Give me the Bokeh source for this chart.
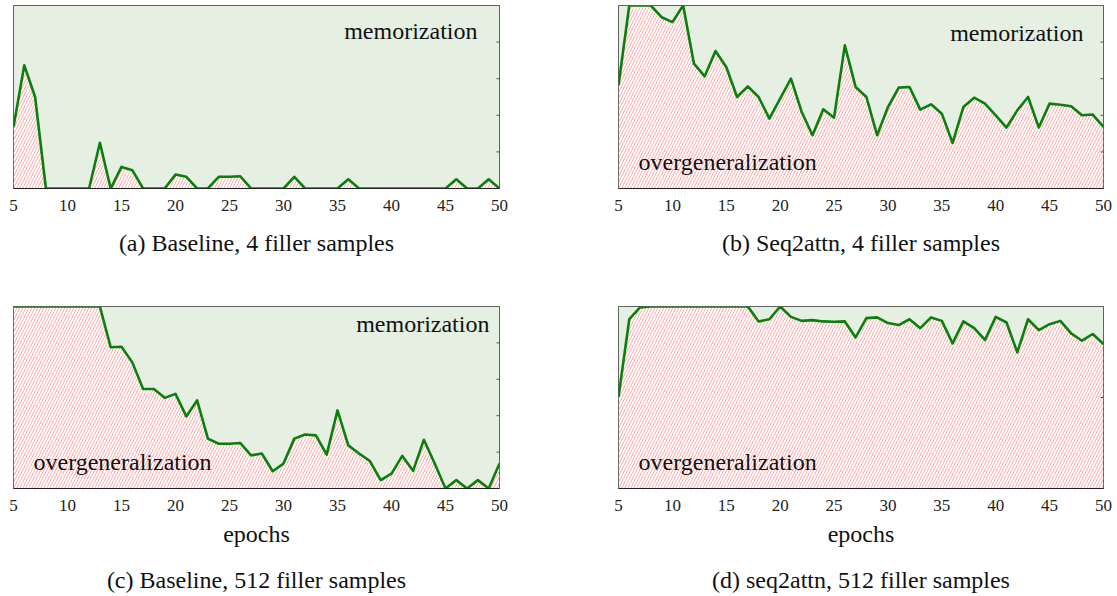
from bokeh.plotting import figure
from bokeh.layouts import column, row
from bokeh.models import LinearAxis, FixedTicker, Range1d, Label
from bokeh.embed import file_html
from bokeh.resources import INLINE

epochs = [5, 6, 7, 8, 9, 10, 11, 12, 13, 14, 15, 16, 17, 18, 19, 20, 21, 22, 23, 24,
          25, 26, 27, 28, 29, 30, 31, 32, 33, 34, 35, 36, 37, 38, 39, 40, 41, 42, 43, 44,
          45, 46, 47, 48, 49, 50]

baseline_4 = [0.336, 0.673, 0.50, 0.0, 0.0, 0.0, 0.0, 0.0, 0.25, 0.0,
              0.118, 0.10, 0.0, 0.0, 0.0, 0.076, 0.064, 0.0, 0.0, 0.064,
              0.064, 0.067, 0.0, 0.0, 0.0, 0.0, 0.064, 0.0, 0.0, 0.0,
              0.0, 0.05, 0.0, 0.0, 0.0, 0.0, 0.0, 0.0, 0.0, 0.0,
              0.0, 0.05, 0.0, 0.0, 0.05, 0.0]

seq2attn_4 = [0.564, 1.0, 1.0, 1.0, 0.936, 0.909, 1.0, 0.682, 0.613, 0.751,
              0.664, 0.50, 0.558, 0.50, 0.382, 0.491, 0.60, 0.418, 0.291, 0.433,
              0.387, 0.782, 0.555, 0.50, 0.291, 0.445, 0.551, 0.555, 0.431, 0.46,
              0.409, 0.249, 0.445, 0.496, 0.464, 0.40, 0.333, 0.427, 0.50, 0.333,
              0.464, 0.458, 0.449, 0.40, 0.404, 0.336]

baseline_512 = [1.0, 1.0, 1.0, 1.0, 1.0, 1.0, 1.0, 1.0, 1.0, 0.776,
                0.779, 0.693, 0.547, 0.547, 0.498, 0.52, 0.396, 0.484, 0.274, 0.246,
                0.246, 0.25, 0.182, 0.192, 0.095, 0.137, 0.274, 0.297, 0.292, 0.186,
                0.429, 0.237, 0.192, 0.151, 0.046, 0.082, 0.179, 0.097, 0.268, 0.137,
                0.0, 0.046, 0.0, 0.046, 0.0, 0.137]

seq2attn_512 = [0.502, 0.93, 0.995, 1.0, 1.0, 1.0, 1.0, 1.0, 1.0, 1.0,
                1.0, 1.0, 1.0, 0.918, 0.93, 1.0, 0.943, 0.921, 0.925, 0.918,
                0.916, 0.918, 0.83, 0.936, 0.94, 0.909, 0.898, 0.93, 0.881, 0.94,
                0.921, 0.797, 0.918, 0.881, 0.816, 0.943, 0.912, 0.748, 0.93, 0.87,
                0.903, 0.921, 0.852, 0.812, 0.849, 0.794]

x_ticks = [5, 10, 15, 20, 25, 30, 35, 40, 45, 50]
right_ticks_fine = [0.2, 0.4, 0.6, 0.8]
right_ticks_half = [0.5]

captions = ["(a) Baseline, 4 filler samples",
            "(b) Seq2attn, 4 filler samples",
            "(c) Baseline, 512 filler samples",
            "(d) seq2attn, 512 filler samples"]

FONT = "Liberation Serif"
GREEN_FILL = "#e5f0e2"
LINE_GREEN = "#0b7f0b"
HATCH_RED = "#ffaaaa"


def panel(y, caption, rticks, left_b, frame_w, right_b, top_b, frame_h, bottom_b,
          mem=None, over=None, xlabel=None, cap_standoff=16):
    p = figure(frame_width=frame_w, frame_height=frame_h,
               min_border_left=left_b, min_border_right=right_b,
               min_border_top=top_b, min_border_bottom=bottom_b,
               x_range=Range1d(5, 50), y_range=Range1d(0, 1),
               y_axis_location=None,
               output_backend="svg", toolbar_location=None, tools="")
    p.grid.visible = False
    p.background_fill_color = "white"
    p.border_fill_color = "white"
    p.outline_line_color = "#333333"
    p.outline_line_width = 1

    top = [1.0] * len(epochs)
    zero = [0.0] * len(epochs)
    p.varea(x=epochs, y1=y, y2=top, fill_color=GREEN_FILL)
    p.varea(x=epochs, y1=zero, y2=y, fill_color="white", fill_alpha=1.0,
            hatch_pattern="/", hatch_color=HATCH_RED, hatch_scale=6,
            hatch_weight=1.0, hatch_alpha=1.0)
    p.line(x=epochs, y=y, line_color=LINE_GREEN, line_width=2.6,
           line_join="round")

    # small inward tick marks on the right edge
    n = len(rticks)
    p.segment(x0=[50] * n, x1=[49.72] * n, y0=rticks, y1=rticks,
              line_color="#555555", line_width=1)

    xa = p.xaxis[0]
    xa.ticker = FixedTicker(ticks=x_ticks)
    xa.major_tick_out = 0
    xa.major_tick_in = 0
    xa.minor_tick_out = 0
    xa.minor_tick_in = 0
    xa.axis_line_color = "#222222"
    xa.axis_line_width = 1.2
    xa.major_label_text_font = FONT
    xa.major_label_text_font_size = "17px"
    xa.major_label_text_color = "#222222"
    xa.major_label_standoff = 11
    if xlabel:
        xa.axis_label = xlabel
        xa.axis_label_text_font = FONT
        xa.axis_label_text_font_size = "24px"
        xa.axis_label_text_font_style = "normal"
        xa.axis_label_text_color = "#111111"
        xa.axis_label_standoff = 7

    cap = LinearAxis(ticker=FixedTicker(ticks=[]), axis_label=caption,
                     axis_line_color=None, major_tick_out=0, major_tick_in=0,
                     minor_tick_out=0, minor_tick_in=0,
                     major_label_standoff=0,
                     axis_label_standoff=cap_standoff,
                     axis_label_text_font=FONT,
                     axis_label_text_font_size="24px",
                     axis_label_text_font_style="normal",
                     axis_label_text_color="#111111")
    p.add_layout(cap, "below")

    if mem is not None:
        p.add_layout(Label(x=mem[0], y=mem[1], text="memorization",
                           text_align="right", text_baseline="middle",
                           text_font=FONT, text_font_size="24px",
                           text_color="#111111"))
    if over is not None:
        p.add_layout(Label(x=over[0], y=over[1], text="overgeneralization",
                           text_align="left", text_baseline="middle",
                           text_font=FONT, text_font_size="24px",
                           text_color="#111111"))
    return p


pa = panel(baseline_4, captions[0], right_ticks_fine, 13, 486, 61, 5, 183, 118,
           mem=(47.96, 0.86), cap_standoff=16)
pb = panel(seq2attn_4, captions[1], right_ticks_fine, 58, 485, 10, 5, 183, 118,
           mem=(48.14, 0.85), over=(6.86, 0.145), cap_standoff=16)
pc = panel(baseline_512, captions[2], right_ticks_fine, 13, 486, 61, 0, 182, 106,
           mem=(49.07, 0.905), over=(6.85, 0.145), xlabel="epochs",
           cap_standoff=17)
pd_ = panel(seq2attn_512, captions[3], right_ticks_half, 58, 485, 10, 0, 182, 106,
            over=(6.86, 0.145), xlabel="epochs", cap_standoff=17)

layout = column(row(pa, pb, spacing=0), row(pc, pd_, spacing=0), spacing=0)

open("out.html", "w").write(file_html(layout, INLINE))
